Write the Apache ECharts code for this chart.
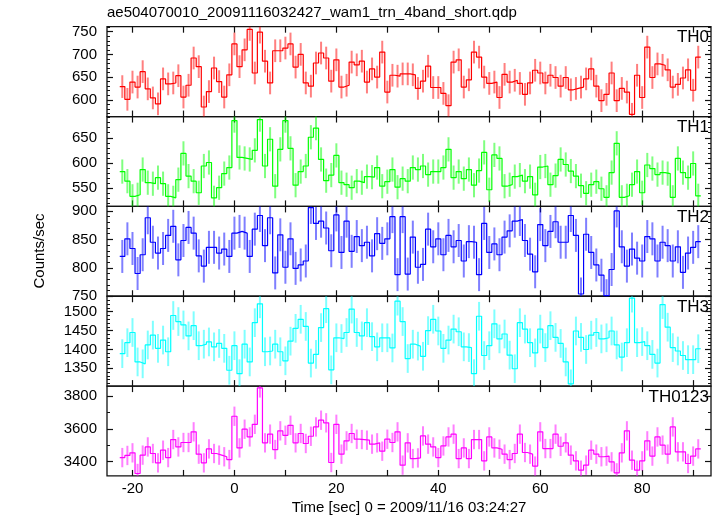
<!DOCTYPE html>
<html><head><meta charset="utf-8">
<script src="https://cdn.jsdelivr.net/npm/echarts@6/dist/echarts.min.js"></script>
<style>html,body{margin:0;padding:0;background:#fff}#chart{width:717px;height:516px}</style>
</head><body><div id="chart"></div>
<script>
const titleText = 'ae504070010_20091116032427_wam1_trn_4band_short.qdp';
const xTitle = 'Time [sec] 0 = 2009/11/16 03:24:27';
const yTitle = 'Counts/sec';
const panelNames = ['TH0', 'TH1', 'TH2', 'TH3', 'TH0123'];

// count rates, 1 s bins, bin centres from -22 s to 91 s
const th0 = [629,601,639,628,662,624,604,591,646,635,637,653,606,632,692,673,584,618,670,640,606,655,723,
  673,710,755,659,749,685,637,708,708,714,723,672,700,637,630,681,703,692,641,688,628,632,683,677,685,639,668,650,705,617,
  654,652,657,657,655,625,641,674,627,627,614,587,683,688,628,644,705,694,650,636,639,605,656,639,643,636,612,637,665,659,
  637,654,649,630,649,622,625,628,646,668,630,598,612,659,598,625,617,568,654,605,716,649,679,676,666,628,634,648,666,621,694];
const th1 = [583,564,534,537,587,561,559,571,559,534,531,567,619,574,564,541,594,601,531,551,579,591,
  684,611,609,607,625,686,594,647,554,627,684,629,556,583,594,651,669,607,565,576,615,561,557,551,564,561,573,572,591,554,
  563,587,552,569,564,591,587,594,577,583,583,591,627,571,583,569,587,556,585,621,547,616,609,554,557,573,576,564,573,537,
  592,594,557,575,607,597,584,574,555,540,557,563,549,532,581,639,532,535,557,583,541,596,589,577,581,579,532,609,581,571,599,535];
const th2 = [820,851,834,790,823,888,845,826,834,857,873,814,848,871,861,821,803,836,836,826,833,820,
  861,864,861,820,868,892,839,888,791,858,801,851,799,805,812,906,878,882,870,830,893,827,882,829,855,839,845,821,860,843,
  851,890,788,890,789,854,801,806,868,837,851,823,857,837,848,812,846,845,788,878,827,842,823,854,865,882,885,848,824,793,
  876,839,864,881,845,845,892,857,754,859,827,805,787,751,797,900,837,803,833,817,812,855,851,812,845,839,812,837,792,826,836,846];
const th3 = [1389,1418,1445,1367,1362,1412,1438,1403,1425,1394,1490,1474,1465,1436,1463,1410,1414,1420,1407,1416,1403,1345,
  1410,1336,1414,1367,1471,1521,1394,1396,1414,1394,1370,1422,1456,1480,1461,1364,1387,1458,1508,1346,
  1431,1429,1445,1507,1445,1436,1471,1434,1407,1431,1431,1404,1528,1474,1376,1414,1409,1382,1450,1480,
  1449,1403,1425,1454,1447,1407,1405,1336,1488,1384,1410,1468,1428,1441,1385,1349,1471,1454,1418,1391,
  1454,1405,1463,1432,1416,1367,1309,1449,1432,1400,1438,1445,1428,1431,1449,1412,1380,1418,1536,1418,
  1421,1410,1387,1364,1519,1459,1405,1396,1384,1373,1373,1402];
const th0123 = [3425,3438,3454,3328,3440,3490,3450,3393,3470,3425,3535,3490,3517,3517,3582,3446,3393,3478,3450,3440,3430,3413,
  3677,3484,3598,3551,3628,3850,3515,3568,3474,3588,3561,3622,3515,3572,3511,3555,3612,3653,3637,3395,
  3628,3446,3527,3572,3537,3535,3531,3507,3515,3464,3537,3517,3582,3379,3515,3419,3423,3557,3507,3490,
  3425,3496,3551,3568,3419,3484,3419,3535,3535,3405,3551,3484,3476,3446,3413,3450,3568,3456,3446,3373,
  3582,3480,3480,3568,3494,3515,3440,3405,3348,3379,3470,3446,3430,3434,3399,3332,3454,3588,3409,3348,
  3405,3527,3434,3551,3501,3446,3612,3460,3460,3389,3434,3478];
const seriesValues = [th0, th1, th2, th3, th0123];
const errors = [25, 24, 29, 38, 59];

const binStart = -22.5, binWidth = 1;
const xRange = [-25, 93.5];
const xTicks = [-20, -10, 0, 10, 20, 30, 40, 50, 60, 70, 80, 90];
const xLabels = [-20, 0, 20, 40, 60, 80];
const yRanges = [[563, 761], [514, 692], [750, 908], [1303, 1541], [3313, 3861]];
const yMajor = [[600, 650, 700, 750], [550, 600, 650], [750, 800, 850, 900], [1350, 1400, 1450, 1500], [3400, 3600, 3800]];
const yMinorStep = [10, 10, 10, 10, 100];
const colors = ['#ff0000', '#00ff00', '#0000ff', '#00ffff', '#ff00ff'];

const FONT = '"Liberation Sans", Arial, Helvetica, sans-serif';
const L = 107, R = 711, TOP0 = 26.7, PH = 89.85;
const fmt = v => String(v);

function minorTicks(i) {
  const out = [];
  const [lo, hi] = yRanges[i];
  const s = yMinorStep[i];
  for (let v = Math.ceil(lo / s) * s; v <= hi; v += s) out.push(v);
  return out;
}

const grids = [], xAxes = [], yAxes = [], series = [], graphics = [];
for (let i = 0; i < 5; i++) {
  grids.push({ left: L, width: R - L, top: TOP0 + i * PH, height: PH, show: true,
    borderColor: '#111', borderWidth: 1.3, backgroundColor: 'transparent', containLabel: false });
  ['bottom', 'top'].forEach(pos => {
    xAxes.push({ type: 'value', gridIndex: i, position: pos, min: xRange[0], max: xRange[1],
      axisLine: { show: false, onZero: false }, splitLine: { show: false },
      axisTick: { show: true, inside: true, length: 6, customValues: xTicks, lineStyle: { color: '#111', width: 1.2 } },
      axisLabel: { show: pos === 'bottom' && i === 4, customValues: xLabels, margin: 5, formatter: fmt,
        fontSize: 15, color: '#000', fontFamily: FONT } });
  });
  ['left', 'right'].forEach(pos => {
    yAxes.push({ type: 'value', gridIndex: i, position: pos, min: yRanges[i][0], max: yRanges[i][1],
      axisLine: { show: false, onZero: false }, splitLine: { show: false },
      axisTick: { show: true, inside: true, length: 6, customValues: yMajor[i], lineStyle: { color: '#111', width: 1.2 } },
      axisLabel: { show: pos === 'left', customValues: yMajor[i], margin: 10, formatter: fmt,
        fontSize: 15, color: '#000', fontFamily: FONT } });
    yAxes.push({ type: 'value', gridIndex: i, position: pos, min: yRanges[i][0], max: yRanges[i][1],
      axisLine: { show: false, onZero: false }, splitLine: { show: false },
      axisTick: { show: true, inside: true, length: 3, customValues: minorTicks(i), lineStyle: { color: '#111', width: 1 } },
      axisLabel: { show: false } });
  });
  const vals = seriesValues[i];
  const lo = yRanges[i][0], hi = yRanges[i][1];
  const errData = vals.map((v, k) => [binStart + (k + 0.5) * binWidth, v, errors[i]]);
  series.push({ type: 'custom', name: panelNames[i] + ' err', xAxisIndex: i * 2, yAxisIndex: i * 4,
    data: errData, silent: true, z: 2,
    renderItem: (params, api) => {
      const t = api.value(0), v = api.value(1), e = api.value(2);
      const a = api.coord([t, Math.max(lo, v - e)]);
      const b = api.coord([t, Math.min(hi, v + e)]);
      return { type: 'line', shape: { x1: a[0], y1: a[1], x2: b[0], y2: b[1] },
        style: { stroke: colors[i], lineWidth: 2, opacity: 0.5 } };
    } });
  const stepData = vals.map((v, k) => [binStart + k * binWidth, v]);
  stepData.push([binStart + vals.length * binWidth, vals[vals.length - 1]]);
  series.push({ type: 'line', name: panelNames[i], xAxisIndex: i * 2, yAxisIndex: i * 4,
    data: stepData, step: 'end', symbol: 'none', z: 3,
    lineStyle: { color: colors[i], width: 1.2 }, silent: true });
  graphics.push({ type: 'text', x: 709, y: TOP0 + i * PH + 11,
    style: { text: panelNames[i], font: '17px ' + FONT, fill: '#000', textAlign: 'right', textVerticalAlign: 'middle' } });
}
graphics.push({ type: 'text', x: 107, y: 13, style: { text: titleText, font: '15px ' + FONT, fill: '#000', textVerticalAlign: 'middle' } });
graphics.push({ type: 'text', x: (L + R) / 2, y: 508, style: { text: xTitle, font: '15px ' + FONT, fill: '#000', textAlign: 'center', textVerticalAlign: 'middle' } });
graphics.push({ type: 'text', x: 40, y: 251, rotation: Math.PI / 2, style: { text: yTitle, font: '15px ' + FONT, fill: '#000', textAlign: 'center', textVerticalAlign: 'middle' } });

const chart = echarts.init(document.getElementById('chart'), null, { renderer: 'canvas' });
chart.setOption({ animation: false, backgroundColor: '#fff', grid: grids, xAxis: xAxes, yAxis: yAxes, series: series, graphic: graphics });
</script></body></html>
